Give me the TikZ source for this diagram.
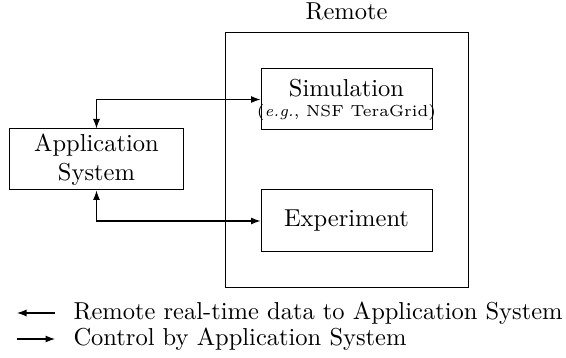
\documentclass[tikz,border=0pt]{standalone}
\usetikzlibrary{arrows.meta}
\begin{document}
\begin{tikzpicture}[x=0.4pt,y=-0.4pt,
  every node/.style={font=\fontsize{9.8}{11.8}\selectfont},
  box/.style={draw,line width=0.4pt,inner sep=0pt,align=center},
  conn/.style={line width=0.45pt,{Latex[length=3.8pt,width=2.8pt]}-{Latex[length=3.8pt,width=2.8pt]}},
  legarrow/.style={line width=0.45pt,-{Latex[length=3.8pt,width=2.8pt]}}]
\useasboundingbox (0,0) rectangle (566,358);
\node[box,minimum width=97.2pt,minimum height=102pt] (remote) at (346.5,160.5) {};
\node[anchor=south] (remotelbl) at (346.5,29) {Remote};
\node[box,minimum width=68.4pt,minimum height=24.4pt] (sim) at (346.5,99.5) {};
\node (simt) at (346.5,88) {Simulation};
\node[font=\fontsize{6.4}{8}\selectfont] (sims) at (346.5,113) {(\textit{e.g.}, NSF TeraGrid)};
\node[box,minimum width=68.4pt,minimum height=24.8pt] (exp) at (346.5,221) {Experiment};
\node[box,minimum width=69.2pt,minimum height=24.4pt] (app) at (96.5,159.5) {Application\\System};
\draw[conn] (app.north) |- (sim.west);
\draw[conn] (app.south) |- (exp.west);
\coordinate (l1a) at (17,313);
\coordinate (l1b) at (55,313);
\coordinate (l2a) at (17,339);
\coordinate (l2b) at (55,339);
\draw[legarrow] (l1b) -- (l1a);
\draw[legarrow] (l2a) -- (l2b);
\node[anchor=west,inner sep=0pt] (leg1) at (73,313) {Remote real-time data to Application System};
\node[anchor=west,inner sep=0pt] (leg2) at (73,339) {Control by Application System};
\end{tikzpicture}
\end{document}
